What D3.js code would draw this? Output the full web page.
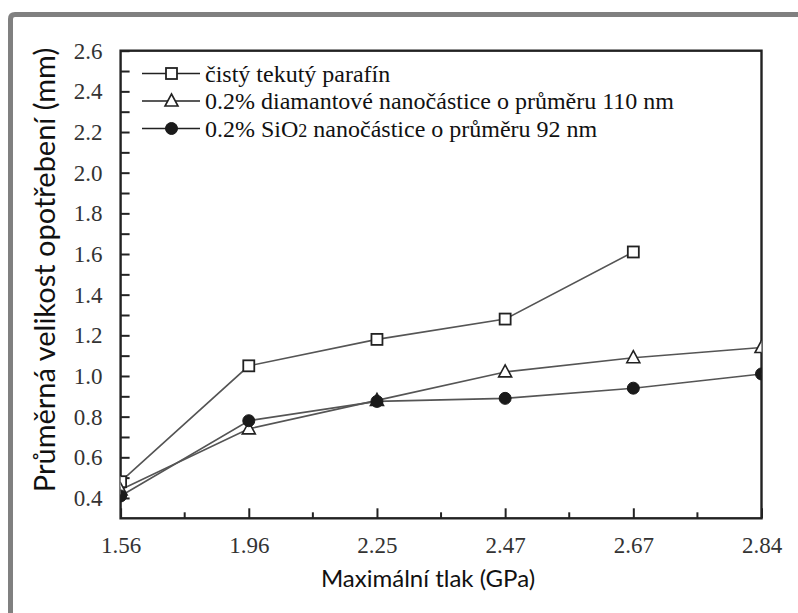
<!DOCTYPE html>
<html>
<head>
<meta charset="utf-8">
<script src="https://cdn.jsdelivr.net/npm/d3@7"></script>
<style>
  html, body { margin: 0; padding: 0; background: #fff; }
  svg { display: block; }
</style>
</head>
<body>
<svg id="chart" width="798" height="613"></svg>
<script>
// ---- Data ----
const categories = ["1.56", "1.96", "2.25", "2.47", "2.67", "2.84"];
const seriesNames = [
  "čistý tekutý parafín",
  "0.2% diamantové nanočástice o průměru 110 nm",
  "0.2% SiO2 nanočástice o průměru 92 nm"
];
const pureParaffin = [0.48, 1.05, 1.18, 1.28, 1.61, null];
const diamond110 = [0.44, 0.74, 0.88, 1.02, 1.09, 1.14];
const sio2_92 = [0.41, 0.78, 0.875, 0.89, 0.94, 1.01];
const yTicks = d3.range(4, 27).map(d => d / 10);
const xTitle = "Maximální tlak (GPa)";
const yTitle = "Průměrná velikost opotřebení (mm)";

// ---- Layout ----
const svg = d3.select("#chart");
const L = 120.6, R = 761.5, T = 50.7, B = 518.3;

// frame (gray, top and left)
svg.append("path")
  .attr("d", "M10.5,613 L10.5,19 Q10.5,14.5 15,14.5 L798,14.5")
  .attr("fill", "none").attr("stroke", "#808080").attr("stroke-width", 5);

const x = d3.scalePoint().domain(categories).range([L, R]);
const y = d3.scaleLinear().domain([0.3, 2.6]).range([B, T]);

const serif = "'Liberation Serif', 'Times New Roman', serif";
const sans = "Lato, 'Open Sans', sans-serif";

// y axis
const yAxis = d3.axisLeft(y)
  .tickValues(yTicks)
  .tickSizeInner(-9).tickSizeOuter(0)
  .tickPadding(18)
  .tickFormat(d => (Math.round(d * 10) % 2 === 0 ? d3.format(".1f")(d) : ""));
const gy = svg.append("g").attr("transform", `translate(${L},0)`).call(yAxis);
gy.select(".domain").remove();
gy.selectAll(".tick line").attr("stroke", "#222").attr("stroke-width", 2);
gy.selectAll(".tick text").attr("font-family", serif).attr("font-size", 23).attr("fill", "#333");

// x axis (major ticks at categories)
const xAxis = d3.axisBottom(x).tickSizeInner(-10).tickSizeOuter(0).tickPadding(18);
const gx = svg.append("g").attr("transform", `translate(0,${B})`).call(xAxis);
gx.select(".domain").remove();
gx.selectAll(".tick line").attr("stroke", "#222").attr("stroke-width", 2);
gx.selectAll(".tick text").attr("font-family", serif).attr("font-size", 23).attr("fill", "#333");

// minor x ticks at midpoints
const mids = d3.pairs(categories).map(([a, b]) => (x(a) + x(b)) / 2);
svg.append("g").selectAll("line").data(mids).join("line")
  .attr("x1", d => d).attr("x2", d => d)
  .attr("y1", B).attr("y2", B - 6)
  .attr("stroke", "#222").attr("stroke-width", 2);

// plot frame
svg.append("rect").attr("x", L).attr("y", T).attr("width", R - L).attr("height", B - T)
  .attr("fill", "none").attr("stroke", "#222").attr("stroke-width", 2.4);

// clip for markers at edges
svg.append("clipPath").attr("id", "clip").append("rect")
  .attr("x", L).attr("y", T).attr("width", R - L).attr("height", B - T);

const series = [
  { name: seriesNames[0], values: pureParaffin, marker: "square" },
  { name: seriesNames[1], values: diamond110, marker: "triangle" },
  { name: seriesNames[2], values: sio2_92, marker: "circle" }
];

const line = d3.line()
  .defined(d => d.v != null)
  .x(d => x(d.c)).y(d => y(d.v));

function drawMarker(g, type, cx, cy) {
  if (type === "square") {
    g.append("rect").attr("x", cx - 5.5).attr("y", cy - 5.5).attr("width", 11).attr("height", 11)
      .attr("fill", "#fff").attr("stroke", "#222").attr("stroke-width", 1.8);
  } else if (type === "triangle") {
    g.append("path").attr("d", `M${cx},${cy - 7} L${cx + 6.5},${cy + 5} L${cx - 6.5},${cy + 5} Z`)
      .attr("fill", "#fff").attr("stroke", "#222").attr("stroke-width", 1.6);
  } else {
    g.append("circle").attr("cx", cx).attr("cy", cy).attr("r", 6)
      .attr("fill", "#1a1a1a").attr("stroke", "#1a1a1a").attr("stroke-width", 1);
  }
}

const plot = svg.append("g").attr("clip-path", "url(#clip)");
series.forEach(s => {
  const pts = categories.map((c, i) => ({ c, v: s.values[i] }));
  plot.append("path").datum(pts).attr("d", line)
    .attr("fill", "none").attr("stroke", "#555").attr("stroke-width", 1.6);
});
series.forEach(s => {
  categories.forEach((c, i) => {
    if (s.values[i] != null) drawMarker(plot, s.marker, x(c), y(s.values[i]));
  });
});

// legend
const legY = [73.5, 101, 128.5];
series.forEach((s, i) => {
  const g = svg.append("g");
  g.append("line").attr("x1", 142).attr("x2", 200).attr("y1", legY[i]).attr("y2", legY[i])
    .attr("stroke", "#222").attr("stroke-width", 1.6);
  drawMarker(g, s.marker, 171.5, legY[i]);
  const t = g.append("text").attr("x", 205).attr("y", legY[i] + 8)
    .attr("font-family", serif).attr("font-size", 24).attr("fill", "#111");
  if (s.name.includes("SiO2")) {
    const parts = s.name.split("SiO2");
    t.append("tspan").text(parts[0] + "SiO");
    t.append("tspan").attr("font-size", 18).text("2");
    t.append("tspan").text(parts[1]);
  } else {
    t.text(s.name);
  }
});

// axis titles
svg.append("text").attr("x", 428).attr("y", 587)
  .attr("text-anchor", "middle").attr("font-family", sans).attr("font-size", 24).attr("fill", "#111")
  .text(xTitle);
svg.append("text").attr("transform", "translate(55,270) rotate(-90)")
  .attr("text-anchor", "middle").attr("font-family", sans).attr("font-size", 29).attr("fill", "#111")
  .text(yTitle);
</script>
</body>
</html>
